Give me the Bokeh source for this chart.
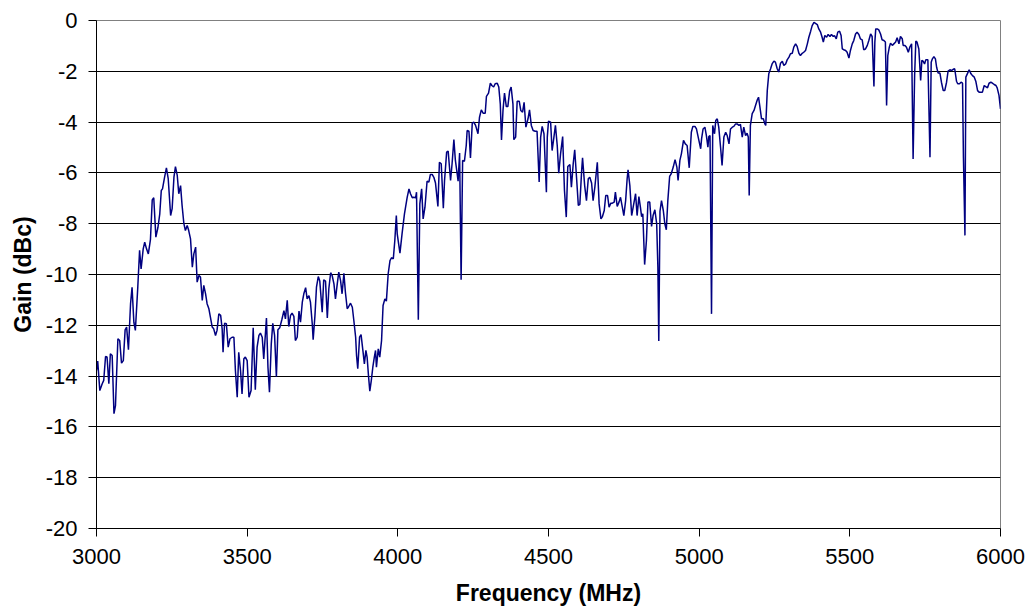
from bokeh.plotting import figure
from bokeh.models import Range1d, FixedTicker
from bokeh.embed import file_html
from bokeh.resources import INLINE

# Frequency (MHz) / Gain (dBc), read in segments
freq_a = [3000,3004,3011,3019,3024,3030,3035,3041,3046,3052,3058,3063,3071,3077,3083,3089,3095,3100,3106,3113,
          3118,3124,3129,3137,3143,3148,3155,3160,3166,3172,3179,3185,3190,3197,3204,3210,3215,3219,3226,3232,
          3238,3246,3251,3257,3262,3268,3273,3279,3284,3290,3295,3301,3306,3312,3318,3323,3329,3334,3340,3345,
          3351,3356,3362,3367,3373,3378,3384,3389,3395,3400,3406,3412,3417,3420,3425,3431,3437,3443,3450,3456,
          3461,3467,3472,3478,3483,3489,3494,3500,3506]
gain_a = [-13.78,-13.41,-14.57,-14.30,-14.17,-13.23,-13.25,-14.30,-13.12,-13.19,-15.48,-15.16,-12.53,-12.60,-13.49,-13.39,-12.18,-12.07,-12.96,-11.15,
          -10.50,-11.88,-12.20,-10.50,-9.05,-9.78,-8.99,-8.73,-8.99,-9.19,-8.63,-7.06,-6.98,-8.53,-8.14,-7.61,-6.69,-6.63,-6.17,-5.80,
          -6.23,-7.68,-7.41,-6.17,-5.75,-6.10,-6.82,-6.50,-7.28,-8.00,-8.27,-8.07,-8.27,-8.60,-9.71,-9.19,-8.92,-10.30,-10.04,-10.10,
          -11.02,-10.43,-10.76,-11.15,-11.35,-11.68,-12.07,-12.14,-12.40,-12.20,-11.55,-11.61,-12.14,-13.06,-11.92,-11.94,-12.86,-12.53,-12.47,-12.47,
          -13.78,-14.83,-13.06,-13.78,-14.70,-13.32,-13.25,-13.39,-14.83]

freq_b = [3513,3520,3527,3533,3539,3544,3550,3555,3564,3569,3574,3580,3585,3591,3597,3602,3608,3615,3622,3627,
          3633,3638,3644,3649,3655,3660,3666,3672,3677,3683,3688,3694,3699,3705,3710,3716,3719,3725,3730,3736,
          3741,3749,3754,3760,3766,3771,3777,3782,3788,3793,3799,3804,3810,3815,3821,3826,3832,3837,3843,3849,
          3854,3860,3863,3867,3873,3878,3884,3889,3894,3898,3903,3907,3912,3917,3922,3926,3929,3935,3940,3946,
          3951,3957,3962,3968,3974,3979,3985,3990]
gain_b = [-14.57,-12.10,-14.54,-12.86,-12.40,-12.31,-12.47,-13.32,-11.71,-13.65,-14.63,-12.73,-11.92,-12.40,-14.02,-12.18,-12.10,-11.78,-11.42,-11.75,
          -11.02,-12.05,-11.61,-11.52,-11.65,-12.60,-12.47,-11.44,-11.88,-11.09,-10.76,-10.52,-10.96,-10.83,-11.09,-11.94,-12.57,-11.61,-10.50,-10.08,
          -10.26,-11.48,-10.21,-10.26,-11.71,-10.56,-9.93,-10.04,-10.37,-10.96,-10.37,-9.91,-10.24,-10.76,-9.95,-10.70,-11.35,-11.26,-11.13,-11.29,
          -11.81,-12.47,-13.19,-13.71,-12.47,-12.37,-12.99,-13.52,-12.99,-13.25,-14.04,-14.59,-14.17,-13.65,-13.25,-12.99,-13.65,-12.93,-13.25,-12.60,
          -11.22,-10.96,-11.05,-9.97,-9.45,-9.34,-9.38,-8.66]

freq_c = [3995,3998,4007,4014,4022,4031,4037,4042,4048,4053,4059,4062,4068,4073,4079,4084,4090,4097,4103,4108,
          4114,4120,4125,4133,4138,4144,4151,4155,4162,4167,4175,4180,4186,4191,4197,4200,4205,4210,4215,4221,
          4227,4230,4236,4241,4247,4252,4258,4266,4271,4277,4283,4290,4294,4301,4307,4312,4318,4323,4330,4335,
          4340,4344,4349,4354,4360,4365,4371,4376,4382,4385,4391,4396,4403,4408,4414,4419,4425,4432,4437,4443,
          4449,4456,4462,4469,4474,4479,4485,4493,4496,4500,4507]
gain_c = [-7.68,-8.40,-9.16,-8.40,-7.61,-6.96,-6.63,-6.82,-6.98,-6.96,-6.98,-6.76,-11.78,-7.22,-6.63,-7.81,-7.35,-6.33,-6.36,-6.06,
          -6.06,-6.19,-6.40,-7.32,-5.58,-5.64,-7.39,-6.30,-5.18,-5.14,-6.30,-5.64,-4.69,-5.51,-6.04,-6.33,-5.22,-10.21,-5.51,-5.54,
          -4.92,-4.33,-4.36,-5.41,-4.04,-4.00,-4.13,-4.46,-3.81,-3.52,-3.65,-3.65,-2.99,-2.86,-2.47,-2.56,-2.62,-2.49,-2.47,-2.62,
          -3.28,-4.70,-3.54,-2.86,-3.39,-3.39,-2.78,-2.62,-3.28,-4.69,-4.59,-3.18,-3.18,-3.54,-3.61,-3.22,-4.20,-3.87,-3.52,-4.13,
          -4.33,-4.36,-4.36,-6.36,-4.59,-4.17,-4.46,-6.76,-4.59,-3.96,-4.00]

freq_d = [4512,4518,4523,4529,4534,4540,4547,4553,4559,4564,4571,4576,4582,4587,4593,4599,4604,4610,4613,4620,
          4626,4632,4637,4643,4648,4654,4662,4668,4674,4679,4685,4690,4696,4701,4707,4712,4718,4722,4728,4734,
          4739,4745,4750,4756,4761,4764,4770,4776,4781,4789,4794,4800,4805,4809,4813,4819,4825,4830,4836,4842,
          4847,4853,4859,4863,4866,4870,4875,4881,4886,4891,4896,4902,4907,4914,4920,4926,4930,4936,4941,4948,
          4954,4960,4967,4974,4979,4986,4991,4998,5005]
gain_d = [-5.12,-4.59,-4.13,-4.92,-6.01,-5.25,-4.57,-6.69,-7.74,-5.75,-5.67,-6.56,-5.64,-5.09,-6.17,-7.28,-7.24,-5.91,-5.41,-6.50,
          -7.09,-6.23,-6.17,-6.40,-7.09,-6.54,-5.58,-7.22,-7.81,-7.72,-7.48,-6.89,-6.89,-7.35,-7.19,-7.19,-7.15,-6.76,-7.32,-7.15,
          -6.96,-7.35,-7.68,-7.09,-6.23,-5.88,-6.50,-7.68,-7.35,-6.82,-7.68,-6.93,-7.35,-7.72,-7.61,-9.61,-8.66,-7.15,-7.15,-8.11,
          -7.68,-7.45,-8.00,-9.71,-12.62,-7.51,-7.09,-7.48,-8.00,-8.24,-7.09,-6.14,-6.04,-5.77,-5.48,-5.77,-6.30,-5.51,-5.25,-4.72,
          -4.86,-4.92,-5.80,-4.40,-4.17,-4.17,-4.27,-4.66,-5.05]

freq_e = [5008,5013,5019,5024,5029,5032,5036,5041,5045,5051,5055,5060,5065,5071,5076,5082,5088,5093,5099,5104,
          5110,5115,5121,5126,5132,5137,5143,5148,5154,5159,5163,5166,5170,5176,5182,5187,5193,5197,5201,5207,
          5213,5218,5221,5226,5231,5237,5242,5248,5253,5259,5264,5270,5276,5281,5287,5292,5298,5303,5309,5314,
          5320,5325,5331,5336,5342,5347,5353,5359,5364,5370,5375,5381,5386,5392,5397,5403,5408,5412,5417,5423,
          5428,5434,5439,5445,5449,5455,5460,5466,5471,5475,5480,5486,5491,5497,5502]
gain_e = [-4.66,-4.27,-4.20,-4.53,-4.99,-4.57,-4.53,-11.55,-4.13,-4.46,-3.94,-3.87,-4.20,-4.99,-5.71,-4.59,-4.40,-4.53,-4.86,-4.27,
          -4.20,-4.17,-4.07,-4.07,-4.13,-4.09,-4.59,-4.20,-4.53,-4.44,-4.59,-6.89,-4.13,-3.67,-3.54,-3.35,-3.12,-3.02,-3.35,-3.87,
          -3.87,-4.07,-4.13,-2.76,-2.10,-1.90,-1.71,-1.60,-1.64,-1.90,-2.03,-1.68,-1.60,-1.77,-1.71,-1.55,-1.44,-1.31,-1.29,-1.05,
          -0.92,-1.02,-1.29,-1.38,-1.29,-1.25,-1.18,-0.92,-0.66,-0.42,-0.20,-0.07,-0.11,-0.16,-0.33,-0.46,-0.66,-0.85,-0.59,-0.66,
          -0.55,-0.63,-0.55,-0.63,-0.59,-0.72,-0.46,-0.42,-0.59,-1.12,-1.15,-1.18,-1.25,-1.48,-1.18]

freq_f = [5508,5513,5519,5524,5530,5535,5541,5546,5552,5558,5563,5569,5574,5580,5583,5586,5591,5596,5602,5607,
          5613,5618,5622,5626,5631,5635,5641,5646,5652,5657,5663,5668,5674,5677,5683,5688,5694,5699,5705,5710,
          5715,5719,5723,5729,5735,5739,5743,5748,5752,5759,5766,5770,5774,5779,5784,5788,5793,5799,5804,5810,
          5815,5821,5826,5832,5837,5843,5848,5854,5858,5864,5869,5874,5877,5882,5885,5891,5896,5902,5907,5913,
          5918,5924,5929,5935,5940,5946,5951,5957,5962,5968,5973,5979,5985,5989,5995,6000]
gain_f = [-0.92,-0.79,-0.53,-0.46,-0.55,-0.72,-0.76,-1.15,-1.12,-0.98,-0.79,-0.53,-0.63,-2.60,-0.85,-0.33,-0.33,-0.37,-0.53,-0.76,
          -0.79,-0.85,-3.35,-1.38,-1.05,-0.89,-0.98,-0.92,-0.85,-0.68,-0.92,-0.63,-0.72,-0.98,-0.98,-1.05,-1.25,-1.05,-0.92,-5.45,
          -2.17,-0.81,-0.85,-1.12,-2.36,-1.57,-1.60,-1.71,-1.55,-1.55,-5.38,-1.64,-1.51,-1.42,-1.51,-1.84,-2.07,-2.07,-2.43,-2.76,
          -2.76,-2.43,-1.99,-1.94,-1.97,-1.92,-1.90,-2.39,-2.49,-2.49,-2.43,-2.47,-5.38,-8.46,-2.23,-2.07,-1.94,-2.10,-2.17,-2.23,
          -2.39,-2.76,-2.82,-2.82,-2.82,-2.56,-2.60,-2.65,-2.47,-2.43,-2.47,-2.52,-2.56,-2.65,-2.95,-3.48]

x_ticks = [3000, 3500, 4000, 4500, 5000, 5500, 6000]
y_ticks = [-20, -18, -16, -14, -12, -10, -8, -6, -4, -2, 0]
y_tick_labels = ["-20", "-18", "-16", "-14", "-12", "-10", "-8", "-6", "-4", "-2", "0"]
x_title = "Frequency (MHz)"
y_title = "Gain (dBc)"

freq = freq_a + freq_b + freq_c + freq_d + freq_e + freq_f
gain = gain_a + gain_b + gain_c + gain_d + gain_e + gain_f

FONT = "Liberation Sans"

p = figure(width=1026, height=613, output_backend="svg", toolbar_location=None,
           x_range=Range1d(x_ticks[0], x_ticks[-1]), y_range=Range1d(y_ticks[0], y_ticks[-1]),
           min_border_left=96, min_border_right=26, min_border_top=20, min_border_bottom=85)
p.background_fill_color = "white"
p.border_fill_color = "white"
p.outline_line_color = "#808080"
p.outline_line_width = 1

p.line(freq, gain, line_color="#000080", line_width=1.5)

p.xaxis.ticker = FixedTicker(ticks=x_ticks)
p.yaxis.ticker = FixedTicker(ticks=y_ticks)
p.yaxis.major_label_overrides = {t: s for t, s in zip(y_ticks, y_tick_labels)}
p.xgrid.visible = False
p.ygrid.ticker = FixedTicker(ticks=y_ticks[1:-1])
p.ygrid.grid_line_color = "black"
p.ygrid.grid_line_width = 1

for ax in (p.xaxis, p.yaxis):
    ax.axis_line_color = "black"
    ax.major_tick_line_color = "black"
    ax.major_tick_out = 8
    ax.major_tick_in = 0
    ax.minor_tick_out = 0
    ax.minor_tick_in = 0
    ax.major_label_text_font = FONT
    ax.major_label_text_font_size = "22px"
    ax.major_label_text_color = "black"
    ax.axis_label_text_font = FONT
    ax.axis_label_text_font_size = "23px"
    ax.axis_label_text_font_style = "bold"
    ax.axis_label_text_color = "black"

p.xaxis.axis_label = x_title
p.yaxis.axis_label = y_title
p.xaxis.major_label_standoff = 12
p.xaxis.axis_label_standoff = 13
p.yaxis.major_label_standoff = 11
p.yaxis.axis_label_standoff = 7

open("out.html", "w").write(file_html(p, INLINE))
